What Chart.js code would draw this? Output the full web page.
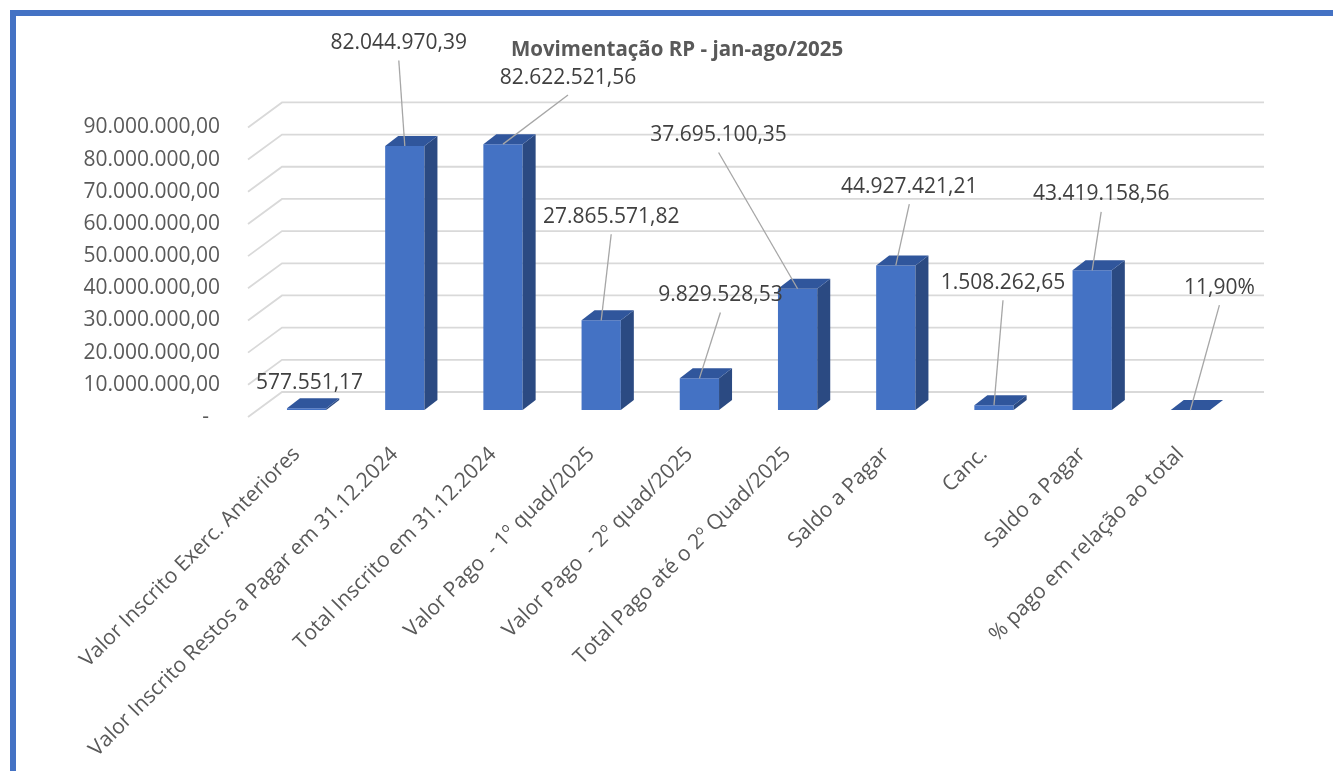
<!DOCTYPE html>
<html><head><meta charset="utf-8">
<script src="https://cdn.jsdelivr.net/npm/chart.js@4.4.1/dist/chart.umd.min.js"></script>
<style>
html,body{margin:0;padding:0;background:#fff;overflow:hidden;}
#wrap{position:relative;width:1333px;height:771px;overflow:hidden;}
#frame{position:absolute;left:10px;top:10px;width:1400px;height:900px;border-left:6px solid #4472C4;border-top:6px solid #4472C4;box-sizing:border-box;}
canvas{position:absolute;left:0;top:0;}
</style></head><body>
<div id="wrap"><div id="frame"></div><canvas id="c" width="1333" height="771"></canvas></div>
<script>
// ---- data ----
const chartTitle = 'Movimentação RP - jan-ago/2025';
const categories = [
  'Valor Inscrito Exerc. Anteriores',
  'Valor Inscrito Restos a Pagar em 31.12.2024',
  'Total Inscrito em 31.12.2024',
  'Valor Pago  - 1º quad/2025',
  'Valor Pago  - 2º quad/2025',
  'Total Pago até o 2º Quad/2025',
  'Saldo a Pagar',
  'Canc.',
  'Saldo a Pagar',
  '% pago em relação ao total'
];
const values = [577551.17, 82044970.39, 82622521.56, 27865571.82, 9829528.53, 37695100.35, 44927421.21, 1508262.65, 43419158.56, 0.119];
const valueFormats = ['money','money','money','money','money','money','money','money','money','percent'];
const yMin = 0, yMax = 90000000, yStep = 10000000;

// ---- label placement (offset of label centre from bar top, px) ----
const labelOffsets = [[3,-25],[-6,-103],[65,-66.6],[10,-103.6],[21,-83.4],[-79,-153.7],[13.5,-78.7],[9,-122.4],[9,-76],[29,-122.3]];
const showLeader = [false,true,true,true,true,true,true,true,true,true];

function fmtBR(v, dec){
  const s = Math.abs(v).toFixed(dec);
  let [i, d] = s.split('.');
  i = i.replace(/\B(?=(\d{3})+(?!\d))/g, '.');
  return (v < 0 ? '-' : '') + (d ? i + ',' + d : i);
}
function fmtValue(v, kind){
  return kind === 'percent' ? fmtBR(v*100, 2) + '%' : fmtBR(v, 2);
}

const FONT = 'Open Sans';
const DX = 13, DY = 10;               // bar depth
const FRONT_DX = -9.5, FRONT_DY = 7;  // floor front edge relative to bar plane
const BACK_DX = 24.5, BACK_DY = -18;  // back wall relative to bar plane

const threeD = {
  id: 'threeD',
  beforeDatasetsDraw(chart){
    const {ctx, chartArea: a, scales: {y}} = chart;
    ctx.save();
    ctx.strokeStyle = '#d9d9d9';
    ctx.lineWidth = 1.8;
    y.ticks.forEach(t => {
      const py = y.getPixelForValue(t.value);
      ctx.beginPath();
      ctx.moveTo(a.left + FRONT_DX, py + FRONT_DY);
      ctx.lineTo(a.left + BACK_DX, py + BACK_DY);
      ctx.lineTo(a.right + BACK_DX, py + BACK_DY);
      ctx.stroke();
    });
    ctx.restore();
  },
  afterDatasetsDraw(chart){
    const {ctx} = chart;
    const meta = chart.getDatasetMeta(0);
    ctx.save();
    meta.data.forEach(bar => {
      const p = bar.getProps(['x','y','base','width'], true);
      const l = p.x - p.width/2, r = p.x + p.width/2;
      const top = Math.min(p.y, p.base), bot = Math.max(p.y, p.base);
      ctx.fillStyle = '#2B4A82';
      ctx.beginPath();
      ctx.moveTo(r, top); ctx.lineTo(r+DX, top-DY); ctx.lineTo(r+DX, bot-DY); ctx.lineTo(r, bot); ctx.closePath(); ctx.fill();
      ctx.fillStyle = '#30569C';
      ctx.beginPath();
      ctx.moveTo(l, top); ctx.lineTo(l+DX, top-DY); ctx.lineTo(r+DX, top-DY); ctx.lineTo(r, top); ctx.closePath(); ctx.fill();
    });
    // data labels with leader lines
    ctx.font = '21px "' + FONT + '"';
    ctx.textAlign = 'center';
    ctx.textBaseline = 'middle';
    meta.data.forEach((bar, i) => {
      const p = bar.getProps(['x','y'], true);
      const lx = p.x + labelOffsets[i][0], ly = p.y + labelOffsets[i][1];
      if (showLeader[i]) {
        ctx.strokeStyle = '#a6a6a6';
        ctx.lineWidth = 1.3;
        ctx.beginPath();
        ctx.moveTo(lx, ly + 17.5);
        ctx.lineTo(p.x, p.y);
        ctx.stroke();
      }
      ctx.fillStyle = '#404040';
      ctx.fillText(fmtValue(values[i], valueFormats[i]), lx, ly);
    });
    ctx.restore();
  },
  afterDraw(chart){
    const {ctx} = chart;
    ctx.save();
    ctx.font = 'bold 20.5px "' + FONT + '"';
    ctx.fillStyle = '#595959';
    ctx.textAlign = 'center';
    ctx.textBaseline = 'middle';
    ctx.fillText(chartTitle, 677, 50);
    ctx.restore();
  }
};

new Chart(document.getElementById('c'), {
  type: 'bar',
  data: {
    labels: categories,
    datasets: [{
      data: values,
      backgroundColor: '#4472C4',
      barPercentage: 0.4,
      categoryPercentage: 1.0
    }]
  },
  options: {
    responsive: false,
    animation: false,
    layout: {padding: {left: 0, right: 93.5, top: 120.4, bottom: 0}},
    plugins: {
      legend: {display: false},
      tooltip: {enabled: false},
      title: {display: false}
    },
    scales: {
      x: {
        grid: {display: false, drawTicks: false},
        border: {display: false},
        ticks: {
          color: '#595959',
          font: {family: FONT, size: 21},
          minRotation: 45, maxRotation: 45,
          autoSkip: false,
          padding: 32,
          labelOffset: -10
        },
        afterFit(s){ s.paddingLeft = 0; s.paddingRight = 0; s.height = 361; }
      },
      y: {
        min: yMin, max: yMax,
        grid: {display: false, drawTicks: false},
        border: {display: false},
        ticks: {
          stepSize: yStep,
          color: '#595959',
          font: {family: FONT, size: 21},
          padding: 37.5,
          labelOffset: 7,
          callback: v => v === 0 ? '-  ' : fmtBR(v, 2)
        },
        afterFit(s){ s.width = 257.5; s.paddingTop = 0; s.paddingBottom = 0; }
      }
    }
  },
  plugins: [threeD]
});
</script>
</body></html>
